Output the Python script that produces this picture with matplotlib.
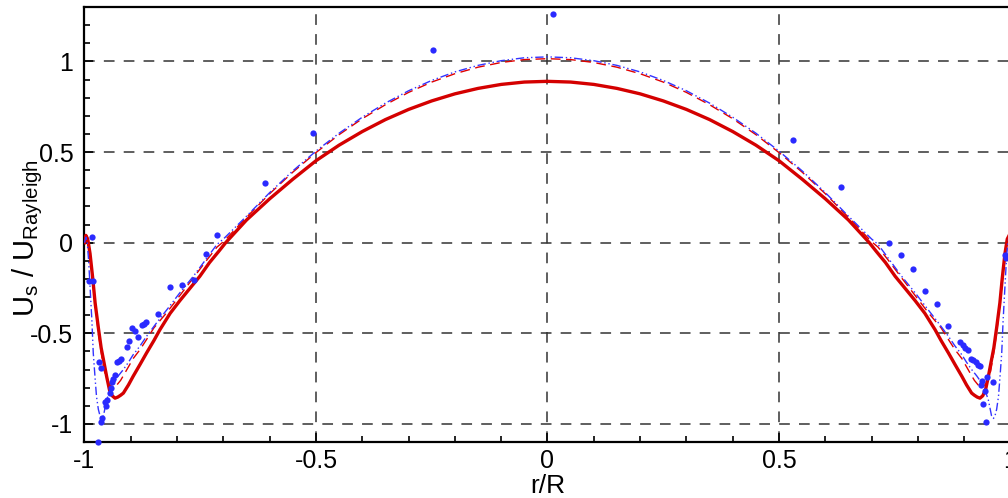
import numpy as np
from matplotlib import pyplot as plt
from matplotlib.ticker import MultipleLocator

plt.rcParams['font.family'] = ['Liberation Sans', 'DejaVu Sans']
plt.rcParams['mathtext.fontset'] = 'custom'
plt.rcParams['mathtext.rm'] = 'Liberation Sans'

# left half of the profiles (r from -1 to 0), the right half is the mirror image
r_solid = [-1.0, -0.997, -0.993, -0.988, -0.982, -0.977, -0.970, -0.964, -0.959, -0.952,
           -0.946, -0.940, -0.934, -0.928, -0.922, -0.916, -0.905, -0.895, -0.880, -0.866,
           -0.850, -0.837, -0.815, -0.794, -0.770, -0.751, -0.730, -0.710, -0.695, -0.650,
           -0.600, -0.550, -0.500, -0.450, -0.400, -0.350, -0.300, -0.250, -0.200, -0.150,
           -0.100, -0.050, 0.0]
u_solid = [0.0, 0.04, 0.02, -0.06, -0.20, -0.333, -0.47, -0.58, -0.646, -0.74,
           -0.812, -0.845, -0.858, -0.852, -0.842, -0.830, -0.785, -0.738, -0.672, -0.609,
           -0.54, -0.48, -0.39, -0.32, -0.245, -0.186, -0.11, -0.048, 0.0, 0.125,
           0.242, 0.35, 0.452, 0.538, 0.613, 0.679, 0.735, 0.782, 0.821, 0.851,
           0.873, 0.886, 0.89]

r_dash = [-1.0, -0.997, -0.993, -0.988, -0.982, -0.976, -0.970, -0.963, -0.957, -0.950,
          -0.943, -0.936, -0.930, -0.922, -0.914, -0.905, -0.895, -0.880, -0.866, -0.850,
          -0.822, -0.795, -0.765, -0.740, -0.714, -0.700, -0.650, -0.600, -0.550, -0.500,
          -0.450, -0.400, -0.350, -0.300, -0.250, -0.200, -0.150, -0.100, -0.050, 0.0]
u_dash = [0.0, 0.04, 0.02, -0.08, -0.22, -0.36, -0.50, -0.62, -0.71, -0.765,
          -0.79, -0.795, -0.785, -0.76, -0.725, -0.685, -0.64, -0.59, -0.535, -0.47,
          -0.385, -0.295, -0.195, -0.11, -0.025, 0.005, 0.14, 0.27, 0.389, 0.497,
          0.596, 0.684, 0.761, 0.829, 0.886, 0.932, 0.968, 0.994, 1.01, 1.015]

r_dd = [-1.0, -0.997, -0.994, -0.991, -0.988, -0.984, -0.981, -0.977, -0.974, -0.970,
        -0.966, -0.963, -0.959, -0.952, -0.945, -0.938, -0.927, -0.916, -0.905, -0.895,
        -0.880, -0.866, -0.845, -0.822, -0.795, -0.765, -0.740, -0.714, -0.700, -0.650,
        -0.600, -0.550, -0.500, -0.450, -0.400, -0.350, -0.300, -0.250, -0.200, -0.150,
        -0.100, -0.050, 0.0]
u_dd = [0.0, 0.03, 0.0, -0.10, -0.241, -0.43, -0.609, -0.75, -0.849, -0.92,
        -0.96, -0.97, -0.955, -0.867, -0.815, -0.775, -0.735, -0.70, -0.66, -0.619,
        -0.57, -0.517, -0.445, -0.37, -0.28, -0.186, -0.10, -0.01, 0.02, 0.146,
        0.276, 0.396, 0.505, 0.604, 0.692, 0.77, 0.838, 0.895, 0.942, 0.978,
        1.004, 1.02, 1.025]

# measured points
r_exp = [-0.983, -0.990, -0.981, -0.713, -0.738, -0.763, -0.790, -0.815, -0.842, -0.868,
         -0.872, -0.875, -0.898, -0.891, -0.884, -0.904, -0.909, -0.922, -0.926, -0.930,
         -0.968, -0.965, -0.935, -0.938, -0.940, -0.943, -0.945, -0.952, -0.956, -0.954,
         -0.962, -0.965, -0.970, -0.506, -0.610, -0.247, 0.0125,
         0.530, 0.633, 0.737, 0.763, 0.789, 0.815, 0.841, 0.866, 0.891, 0.897,
         0.902, 0.909, 0.914, 0.920, 0.925, 0.930, 0.934, 0.938, 0.936, 0.950,
         0.963, 0.945, 0.941, 0.947, 0.988, 0.990]
u_exp = [0.031, -0.214, -0.214, 0.044, -0.064, -0.208, -0.236, -0.243, -0.394, -0.44,
         -0.45, -0.455, -0.47, -0.49, -0.518, -0.545, -0.573, -0.64, -0.655, -0.66,
         -0.656, -0.692, -0.73, -0.75, -0.77, -0.80, -0.83, -0.867, -0.877, -0.904,
         -0.97, -0.99, -1.098, 0.606, 0.33, 1.061, 1.26,
         0.564, 0.308, 0.0, -0.066, -0.145, -0.265, -0.339, -0.459, -0.549, -0.565,
         -0.584, -0.595, -0.643, -0.650, -0.661, -0.676, -0.683, -0.762, -0.788, -0.744,
         -0.770, -0.821, -0.890, -0.987, -0.066, -0.085]


def mirror(r, u):
    r = np.array(r)
    u = np.array(u)
    return np.concatenate([r, -r[::-1][1:]]), np.concatenate([u, u[::-1][1:]])


fig = plt.figure(figsize=(10.08, 4.98), dpi=100)
ax = fig.add_axes([0.0838, 0.1124, 0.9187, 0.8735])

x, y = mirror(r_solid, u_solid)
ax.plot(x, y, color='#d40000', lw=2.4, zorder=3)
x, y = mirror(r_dash, u_dash)
ax.plot(x, y, color='#e00000', lw=1.0, dashes=(7, 4), zorder=3)
x, y = mirror(r_dd, u_dd)
ax.plot(x, y, color='#3333ff', lw=1.0, dashes=(6, 2, 1, 2, 1, 2), zorder=4)
ax.plot(r_exp, u_exp, 'o', color='#2a2aff', ms=4.5, mec='none', zorder=5, clip_on=False)

ax.set_xlim(-1, 1)
ax.set_ylim(-1.1, 1.3)
ax.xaxis.set_major_locator(MultipleLocator(0.5))
ax.xaxis.set_minor_locator(MultipleLocator(0.1))
ax.yaxis.set_major_locator(MultipleLocator(0.5))
ax.yaxis.set_minor_locator(MultipleLocator(0.1))
ax.xaxis.set_major_formatter(plt.FuncFormatter(lambda v, p: '%g' % v))
ax.yaxis.set_major_formatter(plt.FuncFormatter(lambda v, p: '%g' % v))

ax.tick_params(which='both', direction='in', labelsize=18, width=1.2)
ax.tick_params(which='major', length=6.5)
ax.tick_params(which='minor', length=4)
ax.tick_params(axis='x', pad=5)
ax.tick_params(axis='y', pad=8)
for s in ax.spines.values():
    s.set_linewidth(1.6)

ax.grid(True, which='major', color='#333333', lw=1.1, dashes=(7, 6))
ax.set_axisbelow(True)

ax.set_xlabel('r/R', fontsize=19, labelpad=1)
ax.set_ylabel(r'U$_\mathregular{s}$ / U$_\mathregular{Rayleigh}$', fontsize=21)
ax.yaxis.set_label_coords(-0.043, 0.47)

plt.savefig('out.png', dpi=100)
